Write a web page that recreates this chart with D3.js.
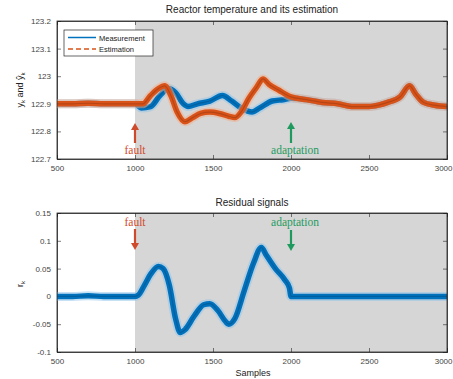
<!DOCTYPE html>
<html><head><meta charset="utf-8">
<script src="https://cdn.jsdelivr.net/npm/d3@7"></script>
<style>
body{margin:0;background:#fff;}
text{font-family:"Liberation Sans",Arial,sans-serif;}
text.ann{font-family:"Liberation Serif","Times New Roman",serif;}
</style></head>
<body><svg id="c" width="453" height="379"></svg>
<script>
// ---- data ----
const measSamples = [500,600,700,800,900,1000,1040,1100,1160,1215,1260,1310,1340,1400,1480,1560,1620,1680,1750,1800,1880,1950,2000,2100,2200,2300,2400,2500,2560,2620,2700,2760,2800,2850,2920,3000];
const measValues  = [122.9,122.9,122.902,122.9,122.9,122.9,122.885,122.89,122.93,122.955,122.94,122.9,122.89,122.9,122.91,122.93,122.91,122.885,122.87,122.885,122.91,122.915,122.92,122.915,122.905,122.9,122.89,122.89,122.895,122.905,122.925,122.965,122.935,122.905,122.895,122.89];
const estSamples  = [500,600,700,800,900,1000,1050,1100,1150,1190,1230,1270,1320,1370,1420,1480,1540,1600,1640,1680,1730,1780,1820,1860,1920,2000,2100,2200,2300,2400,2500,2560,2620,2700,2760,2800,2850,2920,3000];
const estValues   = [122.9,122.9,122.902,122.9,122.9,122.9,122.9,122.93,122.955,122.965,122.93,122.87,122.835,122.85,122.865,122.87,122.865,122.855,122.85,122.87,122.92,122.96,122.99,122.97,122.95,122.925,122.915,122.905,122.9,122.89,122.89,122.895,122.905,122.925,122.965,122.935,122.905,122.895,122.89];
const resSamples  = [500,600,700,800,900,1000,1020,1060,1100,1150,1180,1220,1260,1290,1320,1380,1440,1480,1530,1580,1600,1640,1700,1760,1810,1840,1900,1960,1990,2000,2100,2300,2500,2700,2900,3000];
const resValues   = [0,0,0.001,0,0,0,0.002,0.02,0.04,0.054,0.05,0.02,-0.04,-0.065,-0.06,-0.035,-0.015,-0.013,-0.025,-0.045,-0.05,-0.04,0.01,0.06,0.088,0.075,0.05,0.03,0.015,0,0,0,0,0,0,0];
const xTicks = [500,1000,1500,2000,2500,3000];
const yTicksTop = [122.7,122.8,122.9,123,123.1,123.2];
const yTicksBot = [-0.1,-0.05,0,0.05,0.1,0.15];
const faultAt = 1000, adaptAt = 2000;

const svg = d3.select("#c");
const x = d3.scaleLinear().domain([500,3000]).range([57,447]);
const yT = d3.scaleLinear().domain([122.7,123.2]).range([159,21]);
const yB = d3.scaleLinear().domain([-0.1,0.15]).range([352,213]);

const BLUE="#0072BD", ORANGE="#D95319", GREEN="#1f9a5e", RED="#cf4a2a";

function panel(y, yTicks, fmt, top, bottom){
  const g = svg.append("g");
  g.append("rect").attr("x",x(faultAt)).attr("y",top).attr("width",x(3000)-x(faultAt)).attr("height",bottom-top).attr("fill","#d6d6d6");
  const ax = d3.axisBottom(x).tickValues(xTicks).tickSize(-4).tickPadding(6).tickFormat(d3.format("d"));
  const gx = g.append("g").attr("transform",`translate(0,${bottom})`).call(ax);
  gx.selectAll(".tick text").filter(d=>d===3000).attr("text-anchor","end").attr("dx",5);
  const gxt = g.append("g").attr("transform",`translate(0,${top})`).call(d3.axisTop(x).tickValues(xTicks).tickSize(-4).tickFormat(""));
  const ay = d3.axisLeft(y).tickValues(yTicks).tickSize(-4).tickPadding(6).tickFormat(fmt);
  const gy = g.append("g").attr("transform",`translate(57,0)`).call(ay);
  const gyr = g.append("g").attr("transform",`translate(447,0)`).call(d3.axisRight(y).tickValues(yTicks).tickSize(-4).tickFormat(""));
  [gx,gxt,gy,gyr].forEach(a=>{
    a.selectAll(".domain").attr("stroke","#262626").attr("stroke-width",0.8);
    a.selectAll(".tick line").attr("stroke","#262626").attr("stroke-width",0.6);
    a.selectAll("text").attr("font-size",8).attr("fill","#444");
  });
  return g;
}

function noisyLine(g, xs, ys, y, color, halo){
  const data = xs.map((s,i)=>[s,ys[i]]);
  const line = d3.line().x(d=>x(d[0])).y(d=>y(d[1])).curve(d3.curveMonotoneX);
  g.append("path").datum(data).attr("d",line).attr("fill","none").attr("stroke",halo).attr("stroke-width",9).attr("stroke-opacity",0.5).attr("stroke-linejoin","round");
  g.append("path").datum(data).attr("d",line).attr("fill","none").attr("stroke",color).attr("stroke-width",5.5).attr("stroke-linejoin","round");
  g.append("path").datum(data).attr("d",line).attr("fill","none").attr("stroke",d3.color(color).darker(0.5)).attr("stroke-width",1.2).attr("stroke-linejoin","round");
}

// ---- top panel ----
const gT = panel(yT, yTicksTop, d=> d===123? "123" : d3.format(".1f")(d), 21, 159);
noisyLine(gT, measSamples, measValues, yT, BLUE, "#8fc3ea");
noisyLine(gT, estSamples, estValues, yT, ORANGE, "#f2ab88");
gT.append("rect").attr("x",57).attr("y",21).attr("width",390).attr("height",138).attr("fill","none").attr("stroke","#262626").attr("stroke-width",0.8);

svg.append("text").attr("x",252).attr("y",13).attr("text-anchor","middle").attr("font-size",10).attr("fill","#222").text("Reactor temperature and its estimation");
const yl = svg.append("text").attr("transform","translate(23,90) rotate(-90)").attr("text-anchor","middle").attr("font-size",9).attr("fill","#222");
yl.append("tspan").text("y");
yl.append("tspan").attr("font-size",6).attr("dy",2).text("k");
yl.append("tspan").attr("dy",-2).text(" and ŷ");
yl.append("tspan").attr("font-size",6).attr("dy",2).text("k");

// legend
const lg = svg.append("g");
lg.append("rect").attr("x",64).attr("y",30).attr("width",89).attr("height",26).attr("fill","#fff").attr("stroke","#262626").attr("stroke-width",0.7);
lg.append("line").attr("x1",68).attr("x2",96).attr("y1",37.5).attr("y2",37.5).attr("stroke",BLUE).attr("stroke-width",1.5);
lg.append("line").attr("x1",68).attr("x2",96).attr("y1",49).attr("y2",49).attr("stroke",ORANGE).attr("stroke-width",1.5).attr("stroke-dasharray","5,3");
lg.append("text").attr("x",99).attr("y",40.5).attr("font-size",7.5).attr("fill","#222").text("Measurement");
lg.append("text").attr("x",99).attr("y",52).attr("font-size",7.5).attr("fill","#222").text("Estimation");

// ---- bottom panel ----
const gB = panel(yB, yTicksBot, d=> d===0? "0" : String(+d.toFixed(2)), 213, 352);
noisyLine(gB, resSamples, resValues, yB, BLUE, "#8fc3ea");
gB.append("rect").attr("x",57).attr("y",213).attr("width",390).attr("height",139).attr("fill","none").attr("stroke","#262626").attr("stroke-width",0.8);
svg.append("text").attr("x",252).attr("y",206).attr("text-anchor","middle").attr("font-size",10).attr("fill","#222").text("Residual signals");
svg.append("text").attr("x",253).attr("y",376).attr("text-anchor","middle").attr("font-size",9).attr("fill","#222").text("Samples");
const rl = svg.append("text").attr("transform","translate(23,284) rotate(-90)").attr("text-anchor","middle").attr("font-size",9).attr("fill","#222");
rl.append("tspan").text("r");
rl.append("tspan").attr("font-size",6).attr("dy",2).text("k");

// ---- annotations (on top) ----
function arrow(g, xp, y1, y2, color){
  const dir = Math.sign(y2-y1);
  g.append("line").attr("x1",xp).attr("x2",xp).attr("y1",y1).attr("y2",y2-dir*6).attr("stroke",color).attr("stroke-width",2.2);
  g.append("path").attr("d",`M${xp-4},${y2-dir*7}L${xp+4},${y2-dir*7}L${xp},${y2}Z`).attr("fill",color);
}
const ann = svg.append("g");
arrow(ann, x(faultAt), 143, 123, RED);
arrow(ann, x(adaptAt), 143, 122, GREEN);
arrow(ann, x(faultAt), 229, 250, RED);
arrow(ann, x(adaptAt), 230, 251, GREEN);
const annTexts = [[faultAt,0,154,RED,"fault"],[adaptAt,4,154,GREEN,"adaptation"],[faultAt,0,226,RED,"fault"],[adaptAt,4,226,GREEN,"adaptation"]];
annTexts.forEach(([s,dx,yy,c,t])=>{
  ann.append("text").attr("class","ann").attr("x",x(s)+dx).attr("y",yy).attr("text-anchor","middle").attr("font-size",11.5).attr("fill",c).text(t);
});
</script></body></html>
